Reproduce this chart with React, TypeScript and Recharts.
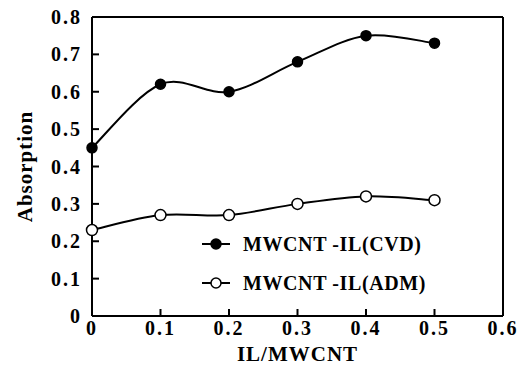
import React from 'react';
import { LineChart, Line, XAxis, YAxis, ReferenceLine } from 'recharts';

const xValues = [0, 0.1, 0.2, 0.3, 0.4, 0.5];
const cvdValues = [0.45, 0.62, 0.60, 0.68, 0.75, 0.73];
const admValues = [0.23, 0.27, 0.27, 0.30, 0.32, 0.31];
const xTicks = [0, 0.1, 0.2, 0.3, 0.4, 0.5, 0.6];
const yTicks = [0, 0.1, 0.2, 0.3, 0.4, 0.5, 0.6, 0.7, 0.8];
const seriesNames = ['MWCNT -IL(CVD)', 'MWCNT -IL(ADM)'];

const data = xValues.map((x, i) => ({ x, cvd: cvdValues[i], adm: admValues[i] }));

const FONT = '"Liberation Serif", "Times New Roman", serif';

// Catmull-Rom style smoothing (like spreadsheet smoothed lines)
function smoothCurve(context: any) {
  let pts: number[][] = [];
  return {
    areaStart() {},
    areaEnd() {},
    lineStart() { pts = []; },
    point(x: number, y: number) { pts.push([+x, +y]); },
    lineEnd() {
      if (!pts.length) return;
      context.moveTo(pts[0][0], pts[0][1]);
      const t = 1 / 6;
      for (let i = 0; i < pts.length - 1; i++) {
        const p0 = pts[Math.max(i - 1, 0)];
        const p1 = pts[i];
        const p2 = pts[i + 1];
        const p3 = pts[Math.min(i + 2, pts.length - 1)];
        context.bezierCurveTo(
          p1[0] + (p2[0] - p0[0]) * t, p1[1] + (p2[1] - p0[1]) * t,
          p2[0] - (p3[0] - p1[0]) * t, p2[1] - (p3[1] - p1[1]) * t,
          p2[0], p2[1]
        );
      }
    },
  };
}

const tickStyle = { fontFamily: FONT, fontWeight: 700, fontSize: 20, fill: '#000', letterSpacing: 2 };

const LegendBox = () => (
  <svg width={240} height={80} style={{ position: 'absolute', left: 200, top: 232 }}>
    {seriesNames.map((name, i) => {
      const y = 12 + i * 39;
      return (
        <g key={name}>
          <line x1={2} x2={30} y1={y} y2={y} stroke="#000" strokeWidth={2} />
          {i === 0 ? (
            <circle cx={16} cy={y} r={5} fill="#000" stroke="#000" strokeWidth={1.5} />
          ) : (
            <circle cx={16} cy={y} r={5} fill="#fff" stroke="#000" strokeWidth={1.5} />
          )}
          <text x={43} y={y + 7} fontFamily={FONT} fontWeight={700} fontSize={20} letterSpacing={0.6} fill="#000">{name}</text>
        </g>
      );
    })}
  </svg>
);

export default function App() {
  return (
    <div style={{ position: 'absolute', left: 0, top: 0, width: 526, height: 375, background: '#fff' }}>
      <LineChart width={526} height={375} data={data} margin={{ top: 17, right: 23, bottom: 29, left: 32 }}>
        <XAxis
          dataKey="x"
          type="number"
          domain={[0, 0.6]}
          ticks={xTicks}
          tickFormatter={(v: number) => String(v)}
          height={30}
          stroke="#000"
          strokeWidth={2}
          tickSize={-7}
          tickMargin={12}
          tick={tickStyle}
          interval={0}
          label={{ value: 'IL/MWCNT', position: 'bottom', offset: 0, style: { fontFamily: FONT, fontWeight: 700, fontSize: 21, fill: '#000', letterSpacing: 1 } }}
        />
        <YAxis
          type="number"
          domain={[0, 0.8]}
          ticks={yTicks}
          tickFormatter={(v: number) => String(v)}
          width={60}
          stroke="#000"
          strokeWidth={2}
          tickSize={-7}
          tickMargin={17}
          tick={tickStyle}
          interval={0}
          label={{ value: 'Absorption', angle: -90, position: 'insideLeft', offset: -7, style: { textAnchor: 'middle', fontFamily: FONT, fontWeight: 700, fontSize: 21, fill: '#000', letterSpacing: 1 } }}
        />
        <ReferenceLine y={0.8} stroke="#000" strokeWidth={2} />
        <ReferenceLine x={0.6} stroke="#000" strokeWidth={2} />
        <Line
          dataKey="cvd"
          type={smoothCurve as any}
          stroke="#000"
          strokeWidth={2}
          dot={{ r: 5, fill: '#000', stroke: '#000', strokeWidth: 1.5 }}
          isAnimationActive={false}
        />
        <Line
          dataKey="adm"
          type={smoothCurve as any}
          stroke="#000"
          strokeWidth={2}
          dot={{ r: 5.5, fill: '#fff', stroke: '#000', strokeWidth: 1.5 }}
          isAnimationActive={false}
        />
      </LineChart>
      <LegendBox />
    </div>
  );
}
